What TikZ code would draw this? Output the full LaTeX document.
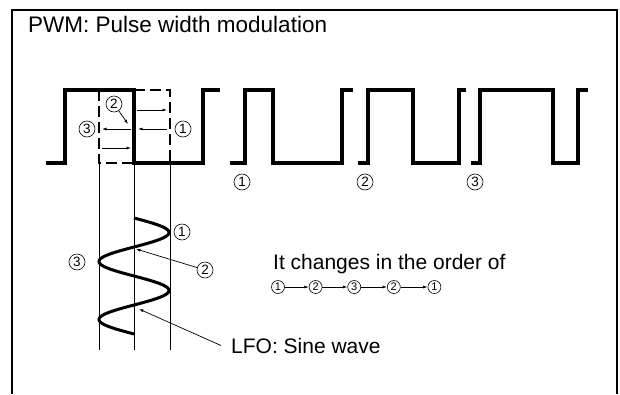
\documentclass[tikz,border=0pt]{standalone}
\usepackage{fontspec}
\setmainfont{Liberation Sans}
\usetikzlibrary{positioning,arrows.meta}

\begin{document}
\begin{tikzpicture}[
    x=1pt, y=-1pt,
    >={Latex[length=4.5pt,width=3pt]},
    every node/.style={font=\fontsize{21}{24}\selectfont},
    caption/.style={anchor=base west, inner sep=0pt},
    wave/.style={line width=3.2pt, line join=miter},
    ghost/.style={line width=2.4pt, dash pattern=on 11pt off 5pt},
    guide/.style={line width=0.8pt},
    num/.style={circle, draw, line width=0.6pt, inner sep=0pt, minimum size=16pt, font=\fontsize{13.5}{13.5}\selectfont},
    smallnum/.style={num, minimum size=13pt, font=\fontsize{11}{11}\selectfont},
    pointer/.style={->, line width=0.7pt},
]
\useasboundingbox (0,0) rectangle (620,394);

% ---- Frame and title ----
\draw[line width=1.1pt] (12,394) -- (12,10) -- (617,10) -- (617,394);
\node[caption, font=\fontsize{22.5}{26}\selectfont] (title) at (28,32) {PWM: Pulse width modulation};

% ---- Pulse train ----
\draw[wave] (46,163) -- (65,163) -- (65,90) -- (134,90) -- (134,163) -- (203,163) -- (203,90) -- (220,90);
\draw[wave] (230,163) -- (245,163) -- (245,90) -- (273,90) -- (273,163) -- (342,163) -- (342,90) -- (353,90);
\draw[wave] (358,163) -- (368,163) -- (368,90) -- (413,90) -- (413,163) -- (459,163) -- (459,90) -- (466,90);
\draw[wave] (471,163) -- (480,163) -- (480,90) -- (553,90) -- (553,163) -- (578,163) -- (578,90) -- (588,90);

% Dashed pulse widths
\draw[ghost] (134,90) -- (170,90) -- (170,163);
\draw[ghost] (99,90) -- (99,163) -- (134,163);

% Width arrows
\coordinate (wideA) at (137,110);
\coordinate (wideB) at (167,110);
\coordinate (backA) at (167,129);
\coordinate (backB) at (138,129);
\coordinate (narrowA) at (131,129);
\coordinate (narrowB) at (102,129);
\coordinate (returnA) at (102,148);
\coordinate (returnB) at (131,148);
\draw[pointer] (wideA) -- (wideB);
\draw[pointer] (backA) -- (backB);
\draw[pointer] (narrowA) -- (narrowB);
\draw[pointer] (returnA) -- (returnB);

% Width labels
\node[num] (pw2) at (114,104) {2};
\node[num] (pw3) at (87,129) {3};
\node[num] (pw1) at (183,129) {1};
\coordinate (pw2tip) at (128,124);
\draw[pointer] (pw2) -- (pw2tip);

% Labels below the pulses
\node[num] (tr1) at (242,182) {1};
\node[num] (tr2) at (365,182) {2};
\node[num] (tr3) at (475,182) {3};

% ---- LFO ----
\foreach \gx in {99,134,170}
    \draw[guide] (\gx,163) -- (\gx,350);
\draw[wave, line width=3pt] plot[domain=0:720, samples=121, smooth] ({134+35*sin(\x)}, {218+\x*0.1611});

\node[num] (lfo1) at (182,232) {1};
\node[num] (lfo3) at (77,262) {3};
\node[num] (lfo2) at (205,270) {2};
\coordinate (cross1) at (136,249);
\draw[pointer] (lfo2) -- (cross1);

\node[caption] (lfo) at (231,353) {LFO: Sine wave};
\coordinate (cross2) at (139,309);
\draw[pointer] ([xshift=-10pt]lfo.west) -- (cross2);

% ---- Order of change ----
\node[caption] (order) at (273,269.5) {It changes in the order of};
\node[smallnum] (seq1) at (278,287) {1};
\node[smallnum, right=24pt of seq1] (seq2) {2};
\node[smallnum, right=25pt of seq2] (seq3) {3};
\node[smallnum, right=26pt of seq3] (seq4) {2};
\node[smallnum, right=27pt of seq4] (seq5) {1};
\foreach \a/\b in {seq1/seq2, seq2/seq3, seq3/seq4, seq4/seq5}
    \draw[pointer] (\a) -- (\b);

\end{tikzpicture}
\end{document}
